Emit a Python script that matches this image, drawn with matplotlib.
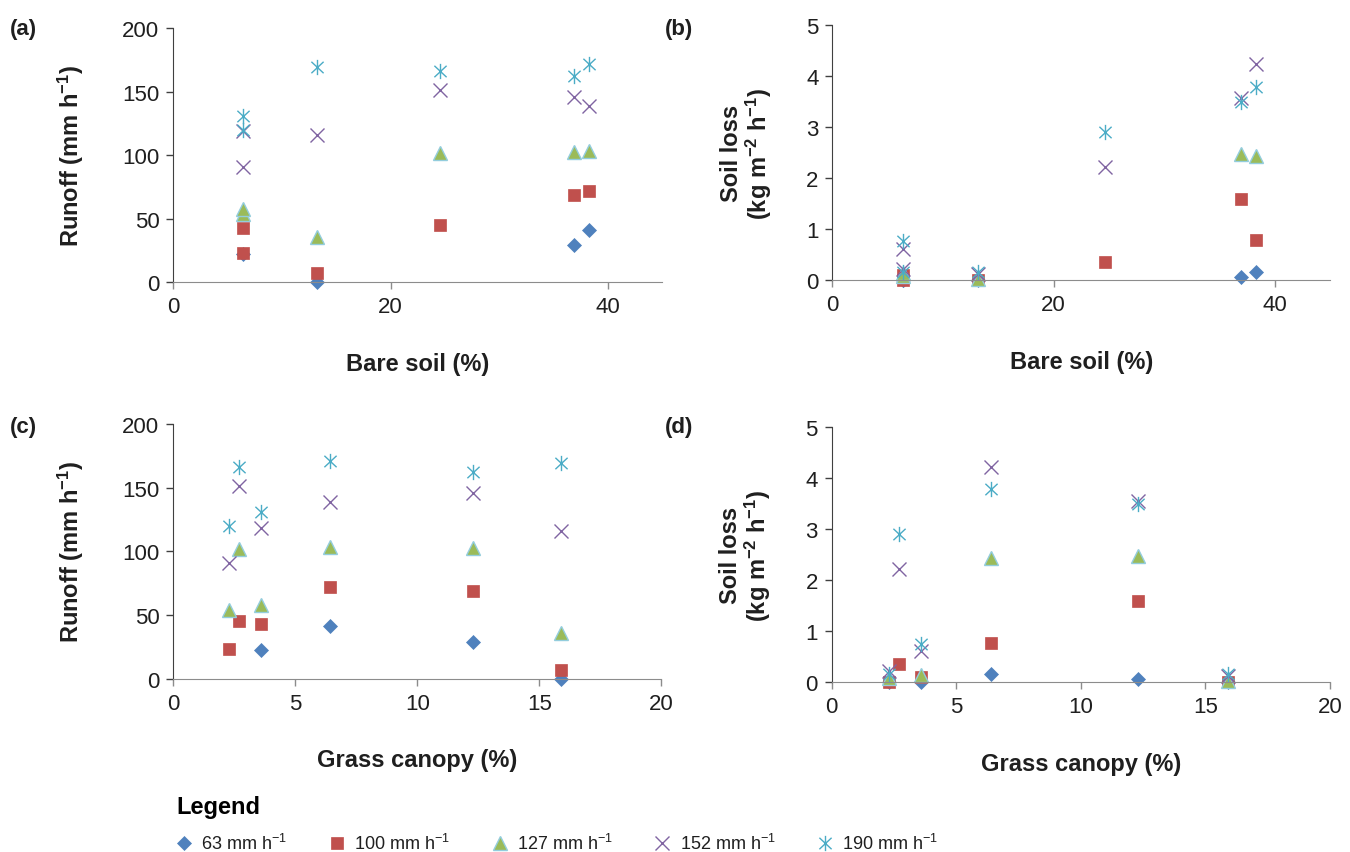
import numpy as np
import matplotlib
matplotlib.use("Agg")
import matplotlib.pyplot as plt
from matplotlib.path import Path

plt.rcParams["font.family"] = ["Liberation Sans", "DejaVu Sans"]
plt.rcParams["mathtext.default"] = "regular"

# six plots, each with five rainfall intensities
bare_soil = [6.4, 6.4, 13.2, 24.6, 36.9, 38.3]
grass_canopy = [2.3, 3.6, 15.9, 2.7, 12.3, 6.4]

intensities = ["63", "100", "127", "152", "190"]

# runoff (mm h-1), one list per intensity, in plot order
runoff_63 = [np.nan, 22.5, 0.0, np.nan, 29.0, 41.5]
runoff_100 = [23.3, 42.7, 7.0, 45.4, 69.0, 71.8]
runoff_127 = [54.0, 58.0, 35.5, 102.0, 102.3, 103.5]
runoff_152 = [91.0, 118.6, 115.8, 151.5, 145.6, 138.4]
runoff_190 = [119.5, 130.8, 169.5, 166.0, 162.5, 171.3]

# soil loss (kg m-2 h-1)
soil_63 = [0.0, 0.01, 0.0, np.nan, 0.07, 0.16]
soil_100 = [0.01, 0.10, 0.0, 0.35, 1.59, 0.78]
soil_127 = [0.08, 0.14, 0.02, np.nan, 2.48, 2.43]
soil_152 = [0.23, 0.62, 0.13, 2.22, 3.56, 4.23]
soil_190 = [0.16, 0.76, 0.16, 2.90, 3.49, 3.79]

RUNOFF = [runoff_63, runoff_100, runoff_127, runoff_152, runoff_190]
SOIL = [soil_63, soil_100, soil_127, soil_152, soil_190]

# Excel-style asterisk: X with a vertical bar
ASTERISK = Path([(0, -1), (0, 1), (-0.8, -0.75), (0.8, 0.75),
                 (-0.8, 0.75), (0.8, -0.75)],
                [Path.MOVETO, Path.LINETO, Path.MOVETO, Path.LINETO,
                 Path.MOVETO, Path.LINETO])

STYLES = [
    dict(marker="D", ms=7.5, mfc="#4F81BD", mec="#4F81BD", mew=0.5),
    dict(marker="s", ms=8.5, mfc="#C0504D", mec="#C0504D", mew=0.5),
    dict(marker="^", ms=9.5, mfc="#9BBB59", mec="#93CDDD", mew=1.0),
    dict(marker="x", ms=10.5, mfc="none", mec="#8064A2", mew=1.0),
    dict(marker=ASTERISK, ms=11, mfc="none", mec="#4BACC6", mew=1.0),
]

TEXT = "#1F1F1F"


def style_axes(ax, xlim, xticks, ylim, yticks):
    ax.set_xlim(*xlim)
    ax.set_ylim(*ylim)
    ax.set_xticks(xticks)
    ax.set_yticks(yticks)
    for s in ("top", "right"):
        ax.spines[s].set_visible(False)
    ax.spines["left"].set_color("#404040")
    ax.spines["bottom"].set_color("#8C8C8C")
    ax.tick_params(axis="both", direction="out", length=5, width=1,
                   labelsize=16, labelcolor=TEXT, pad=5)
    ax.tick_params(axis="y", color="#404040")
    ax.tick_params(axis="x", color="#8C8C8C")


def draw_panel(ax, xs, series):
    handles = []
    for vals, st in zip(series, STYLES):
        h, = ax.plot(xs, vals, linestyle="none", clip_on=False, **st)
        handles.append(h)
    return handles


fig = plt.figure(figsize=(13.5, 8.53), dpi=100, facecolor="white")

ax_a = fig.add_axes([0.1284, 0.6679, 0.3620, 0.2981])
ax_b = fig.add_axes([0.6165, 0.6702, 0.3689, 0.2997])
ax_c = fig.add_axes([0.1284, 0.2032, 0.3615, 0.2986])
ax_d = fig.add_axes([0.6161, 0.1989, 0.3691, 0.2989])

handles = draw_panel(ax_a, bare_soil, RUNOFF)
draw_panel(ax_b, bare_soil, SOIL)
draw_panel(ax_c, grass_canopy, RUNOFF)
draw_panel(ax_d, grass_canopy, SOIL)

style_axes(ax_a, (0, 45), [0, 20, 40], (0, 200), [0, 50, 100, 150, 200])
style_axes(ax_b, (0, 45), [0, 20, 40], (0, 5), [0, 1, 2, 3, 4, 5])
style_axes(ax_c, (0, 20), [0, 5, 10, 15, 20], (0, 200), [0, 50, 100, 150, 200])
style_axes(ax_d, (0, 20), [0, 5, 10, 15, 20], (0, 5), [0, 1, 2, 3, 4, 5])

lab = dict(fontsize=17, fontweight="bold", color=TEXT)
runoff_label = r"Runoff (mm h$^{-1}$)"
soil_label = "Soil loss\n" + r"(kg m$^{-2}$ h$^{-1}$)"

for ax in (ax_a, ax_c):
    ax.set_ylabel(runoff_label, labelpad=26, **lab)
for ax in (ax_b, ax_d):
    ax.set_ylabel(soil_label, labelpad=23, linespacing=1.05, **lab)
for ax in (ax_a, ax_b):
    ax.set_xlabel("Bare soil (%)", labelpad=25, **lab)
for ax in (ax_c, ax_d):
    ax.set_xlabel("Grass canopy (%)", labelpad=25, **lab)

panel = dict(fontsize=16, fontweight="bold", color=TEXT, va="center")
fig.text(10 / 1350, 1 - 29 / 853, "(a)", **panel)
fig.text(665 / 1350, 1 - 29 / 853, "(b)", **panel)
fig.text(10 / 1350, 1 - 428 / 853, "(c)", **panel)
fig.text(665 / 1350, 1 - 428 / 853, "(d)", **panel)

labels = [f"{v} mm h$^{{-1}}$" for v in intensities]
fig.legend(handles, labels, loc="upper left",
           bbox_to_anchor=(176 / 1350, 1 - 796 / 853), ncol=5,
           frameon=False, title="Legend", alignment="left",
           title_fontproperties={"weight": "bold", "size": 17},
           fontsize=13, handlelength=0.9, handletextpad=0.5,
           columnspacing=2.3, labelcolor=TEXT, borderaxespad=0,
           borderpad=0, labelspacing=0.85)

fig.savefig("out.png", dpi=100, facecolor="white")
